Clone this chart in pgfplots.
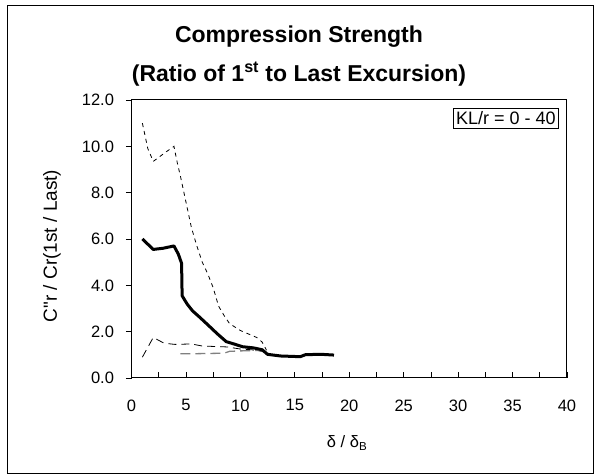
\documentclass[border=0pt]{standalone}
\usepackage{pgfplots}
\pgfplotsset{compat=1.18}
\usepackage{fontspec}
\setmainfont{Liberation Sans}
\begin{document}
\begin{tikzpicture}
\begin{axis}[
  at={(0pt,0pt)}, anchor=south west,
  scale only axis, width=435.5pt, height=278pt,
  xmin=0, xmax=40, ymin=0, ymax=12,
  xtick={0,5,...,40}, minor xtick={2.5,7.5,...,37.5},
  ytick={0,2,...,12},
  xtick pos=bottom, ytick pos=left,
  tick align=inside,
  major tick length=6pt, minor tick length=6pt,
  ytick style={xshift=-5.5pt},
  every tick/.style={black, line width=0.8pt},
  axis line style={line width=1pt},
  yticklabel style={/pgf/number format/.cd, fixed, fixed zerofill, precision=1, /tikz/.cd, xshift=-14pt},
  xticklabel style={yshift=-18pt},
  /pgf/number format/assume math mode=true,
  tick label style={font=\fontsize{16.5}{19}\selectfont},
  xlabel style={font=\fontsize{16.5}{19}\selectfont},
  ylabel style={font=\fontsize{19}{22}\selectfont},
  xlabel={δ / δ\textsubscript{B}},
  ylabel={C\textquotedbl r / Cr(1st / Last)},
  xlabel style={at={(axis description cs:0.495,-0.234)}, anchor=center},
  ylabel style={at={(axis description cs:-0.1826,0.475)}, anchor=center},
  clip=false,
]
% upper bound
\addplot[black, line width=0.8pt, dash pattern=on 4pt off 4pt] coordinates {
(1,11.0) (1.5,9.9) (2,9.35) (3,9.7) (3.9,10.0) (4.2,9.3) (4.5,8.7) (5,7.6) (5.5,6.5)
(6,5.7) (6.5,5.0) (7,4.5) (7.5,3.9) (8,3.1) (8.5,2.7) (9,2.35) (10,2.05) (11,1.85)
(11.5,1.75) (12,1.55) (12.4,1.2)};
% lower bound (black dashed)
\addplot[black, line width=0.8pt, dash pattern=on 8pt off 5pt] coordinates {
(1,0.9) (2,1.75) (3,1.5) (4,1.45) (5.5,1.47) (6.5,1.38) (8.8,1.34) (10,1.25)
(11,1.22) (12,1.15) (12.5,1.05)};
% grey long dash
\addplot[gray, line width=1.3pt, dash pattern=on 10pt off 5pt] coordinates {
(4.5,1.05) (6,1.05) (8.5,1.07) (9,1.15) (10,1.17) (11,1.18) (12,1.2) (12.5,1.05)};
% mean (thick)
\addplot[black, line width=3pt, line join=round] coordinates {
(1,6.0) (2,5.55) (2.9,5.6) (3.9,5.7) (4.3,5.35) (4.6,4.95) (4.65,3.55) (5.1,3.2)
(5.6,2.9) (6.2,2.65) (7,2.3) (7.9,1.9) (8.7,1.57) (9.4,1.47) (10.2,1.35) (11.2,1.3)
(12,1.22) (12.5,1.02) (13.7,0.95) (15.5,0.92) (16,1.01) (17.5,1.02) (18.6,0.99)};
\node[draw, line width=0.8pt, fill=white, inner sep=3pt, font=\fontsize{18}{21}\selectfont, anchor=north east] at (axis description cs:0.982,0.97) {KL/r = 0 - 40};
\end{axis}
% chart area border
\draw[line width=1pt] (-123.5pt,-96pt) rectangle (462pt,372pt);
% title
\node[font=\fontsize{23}{27}\selectfont\bfseries, anchor=base] at (167.5pt,335pt) {Compression Strength};
\node[font=\fontsize{23}{27}\selectfont\bfseries, anchor=base] at (167.5pt,296pt) {(Ratio of 1\textsuperscript{st} to Last Excursion)};
\pgfresetboundingbox
\useasboundingbox (-131.5pt,-98pt) rectangle (463.5pt,378pt);
\end{tikzpicture}
\end{document}
